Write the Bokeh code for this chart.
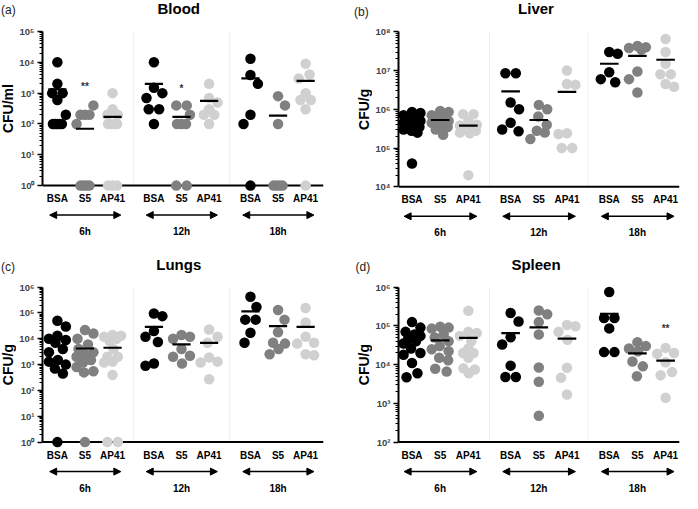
import numpy as np
from bokeh.plotting import figure
from bokeh.layouts import gridplot
from bokeh.models import Range1d, FixedTicker, Arrow, NormalHead
from bokeh.core.properties import value
from bokeh.embed import file_html
from bokeh.resources import INLINE

groups = ["BSA", "S5", "AP41"]
times = ["6h", "12h", "18h"]
colors = ["#000000", "#808080", "#d0d0d0"]

# ---- Blood (CFU/ml); 0 = below detection (drawn on the axis floor) ----
blood_bsa = [[10000, 2000, 1000, 1000, 600, 200, 100, 100, 100, 100, 100],
             [10000, 1500, 1000, 700, 300, 300, 100],
             [13000, 3900, 2000, 200, 100, 0]]
blood_s5 = [[400, 200, 200, 200, 100, 0, 0, 0, 0],
            [400, 400, 200, 100, 100, 100, 0, 0],
            [800, 400, 100, 0, 0, 0, 0]]
blood_ap41 = [[1000, 300, 200, 200, 100, 100, 100, 100, 0, 0, 0],
              [2000, 700, 500, 300, 200, 200, 100],
              [9000, 4000, 3000, 1000, 600, 600, 300, 0]]
blood_mean_bsa = [1320, 2000, 3000]
blood_mean_s5 = [70, 170, 186]
blood_mean_ap41 = [170, 560, 2500]

# ---- Liver (CFU/g) ----
liver_bsa = [[850000, 800000, 700000, 650000, 600000, 500000, 450000, 400000, 380000, 350000, 300000, 280000, 250000, 40000],
             [8500000, 8500000, 1500000, 1000000, 450000, 300000, 270000],
             [30000000, 27000000, 9000000, 6000000, 5000000]]
liver_s5 = [[900000, 850000, 700000, 600000, 550000, 500000, 450000, 400000, 350000, 300000, 220000],
            [1300000, 1000000, 650000, 400000, 280000, 250000, 170000],
            [43000000, 40000000, 38000000, 35000000, 9500000, 6000000, 2700000]]
liver_ap41 = [[750000, 750000, 500000, 400000, 380000, 350000, 300000, 280000, 250000, 240000, 20000],
              [10000000, 4500000, 4300000, 240000, 230000, 100000, 100000],
              [65000000, 30000000, 15000000, 8000000, 8000000, 4500000, 3800000]]
liver_mean_bsa = [460000, 2900000, 15000000]
liver_mean_s5 = [530000, 530000, 24000000]
liver_mean_ap41 = [380000, 2800000, 19000000]

# ---- Lungs (CFU/g) ----
lungs_bsa = [[50000, 30000, 13000, 10000, 9000, 7000, 4000, 3000, 1500, 1300, 1000, 700, 450, 0],
             [95000, 75000, 20000, 12000, 7500, 1100, 900],
             [420000, 170000, 55000, 55000, 17000, 7000]]
lungs_s5 = [[22000, 16000, 10000, 6000, 4000, 3000, 2500, 2000, 1500, 1200, 800, 550, 500, 0],
            [14000, 12000, 10000, 4000, 2200, 2000, 1100],
            [130000, 55000, 18000, 7000, 6500, 4000, 2500]]
lungs_ap41 = [[14000, 13000, 12000, 10000, 8000, 4000, 2000, 2000, 1300, 1200, 400, 0, 0],
              [23000, 12000, 7000, 1900, 1300, 1200, 270],
              [155000, 43000, 12000, 7000, 6500, 2500, 2300]]
lungs_mean_bsa = [9200, 29000, 115000]
lungs_mean_s5 = [4200, 6100, 31000]
lungs_mean_ap41 = [4500, 6900, 29000]

# ---- Spleen (CFU/g) ----
spleen_bsa = [[125000, 90000, 70000, 60000, 55000, 45000, 40000, 35000, 26000, 20000, 18000, 11000, 6000, 4700],
              [215000, 130000, 51000, 33000, 9400, 4800, 4800],
              [750000, 160000, 160000, 86000, 21000, 21000]]
spleen_s5 = [[95000, 90000, 85000, 60000, 50000, 40000, 30000, 25000, 22000, 15000, 13000, 7800, 6600],
             [250000, 200000, 125000, 60000, 8400, 3600, 480],
             [38000, 30000, 26000, 22000, 12000, 9000, 5000]]
spleen_ap41 = [[245000, 70000, 65000, 55000, 40000, 26000, 20000, 20000, 15000, 8000, 7500, 6000],
               [105000, 98000, 70000, 44000, 8300, 4600, 1700],
               [27000, 20000, 19000, 11500, 6400, 5300, 1400]]
spleen_mean_bsa = [44000, 65000, 205000]
spleen_mean_s5 = [42000, 91000, 19500]
spleen_mean_ap41 = [49000, 47000, 12600]

# significance marks: (time index, group index, text, height)
blood_stars = [(0, 1, "**", 1700), (1, 1, "*", 1400)]
spleen_stars = [(2, 2, "**", 86000)]

SUP = str.maketrans("0123456789", "⁰¹²³⁴⁵⁶⁷⁸⁹")
FONT = "Liberation Sans"
MARK = 10.5
LIMIT = 8.5
AXW = 24   # width reserved for y ticks + tick labels


def swarm(vals, floor, dec_px):
    """Deterministic column scatter: ties in a row, others pushed apart within a width limit."""
    eff = [max(v, floor) for v in vals]
    ys = [-np.log10(v) * dec_px for v in eff]
    offs = [None] * len(vals)
    placed = []
    for v in sorted(set(eff), reverse=True):
        idx = [i for i in range(len(vals)) if eff[i] == v]
        n = len(idx)
        if n < 2:
            continue
        half = MARK / 2.0 if n == 2 else 4.5
        for k, i in enumerate(idx):
            offs[i] = -half + 2 * half * k / (n - 1)
            placed.append((offs[i], ys[i]))
    grid = np.arange(-LIMIT, LIMIT + 0.01, 0.5)
    side = 1
    for i in sorted(range(len(vals)), key=lambda j: ys[j]):
        if offs[i] is not None:
            continue
        best, best_s = 0.0, -1.0
        for x in sorted(grid, key=lambda g: (abs(g), -side * g)):
            s = min([np.hypot(x - px, ys[i] - py) for (px, py) in placed] + [MARK * 1.1])
            if s > best_s + 1e-9:
                best, best_s = x, s
        offs[i] = best
        if best != 0:
            side = -np.sign(best)
        placed.append((best, ys[i]))
    return offs


def panel(tag, title, ylabel, data, means, stars, bot_dec, top_dec,
          top_px, axis_px, W, H, bl, br, x_first, x_last, tag_x, tag_px):
    mw = W - bl + AXW          # main figure width
    frame_w = W - bl - br
    xs = (x_last - x_first) / 9.0
    x0 = -x_first / xs
    x1 = 9 + (frame_w - x_last) / xs
    dec_px = (axis_px - top_px) / (top_dec - bot_dec)
    ytop = top_dec + top_px / dec_px
    ybot = bot_dec - (H - axis_px) / dec_px
    floor = 10.0 ** bot_dec
    yr = Range1d(10 ** ybot, 10 ** ytop)

    def y_at(px):
        return 10 ** (ytop - px / dec_px)

    # narrow strip left of the axis: panel tag and y-axis title
    nw = bl - AXW
    s = figure(width=nw, height=H, x_range=Range1d(0, nw), y_range=yr, y_axis_type="log",
               x_axis_location=None, y_axis_location=None, output_backend="svg",
               toolbar_location=None, min_border=0)
    s.grid.visible = False
    s.outline_line_color = None
    s.text(x=[tag_x], y=[y_at(tag_px)], text=[tag], text_align="left", text_baseline="middle",
           text_font=value(FONT), text_font_size="12px", text_color="#222222")
    s.text(x=[bl - 32.5], y=[10 ** ((top_dec + bot_dec) / 2.0)], text=[ylabel], angle=np.pi / 2,
           text_align="center", text_baseline="middle", text_font=value(FONT),
           text_font_style="bold", text_font_size="14px", text_color="black")

    p = figure(width=mw, height=H, x_range=Range1d(x0, x1), y_range=yr, y_axis_type="log",
               x_axis_location=None, output_backend="svg", toolbar_location=None,
               min_border_left=AXW, min_border_right=br, min_border_top=0,
               min_border_bottom=0)
    p.xgrid.visible = False
    p.ygrid.visible = False
    p.outline_line_color = None

    ax = p.yaxis[0]
    ax.ticker = FixedTicker(ticks=[10 ** k for k in range(bot_dec, top_dec + 1)],
                            minor_ticks=[m * 10 ** k for k in range(bot_dec, top_dec) for m in range(2, 10)])
    ax.bounds = (10 ** bot_dec, 10 ** top_dec)
    ax.major_label_overrides = {10 ** k: "10" + str(k).translate(SUP) for k in range(bot_dec, top_dec + 1)}
    ax.major_label_text_font = FONT
    ax.major_label_text_font_style = "bold"
    ax.major_label_text_font_size = "9.5px"
    ax.major_label_standoff = 3
    ax.axis_line_width = 2
    ax.major_tick_out = 5
    ax.major_tick_in = 0
    ax.minor_tick_out = 3
    ax.minor_tick_in = 0
    ax.major_tick_line_width = 1.5

    # faint separators between time groups
    p.segment(x0=[2.75, 6.25], x1=[2.75, 6.25], y0=[floor] * 2, y1=[10 ** top_dec] * 2,
              line_color="#eeeeee", line_width=1)
    # x axis line
    p.segment(x0=[x0], x1=[x1], y0=[floor], y1=[floor], line_color="black", line_width=2)

    for g in range(3):
        xx, yy = [], []
        for t in range(3):
            vals = data[g][t]
            offs = swarm(vals, floor, dec_px)
            for v, o in zip(vals, offs):
                xx.append(t * 3.5 + g + o / xs)
                yy.append(max(v, floor))
        p.scatter(x=xx, y=yy, size=MARK, fill_color=colors[g], line_color=colors[g],
                  line_width=0)

    mx, my = [], []
    for g in range(3):
        for t in range(3):
            mx.append(t * 3.5 + g)
            my.append(means[g][t])
    mx = np.array(mx)
    p.segment(x0=mx - 0.33, x1=mx + 0.33, y0=my, y1=my, line_color="black", line_width=2.2)

    for (t, g, st, h) in stars:
        p.text(x=[t * 3.5 + g], y=[h], text=[st], text_align="center", text_baseline="middle",
               text_font=value(FONT), text_font_style="bold", text_font_size="10px",
               text_color="#333333")

    cx = [t * 3.5 + g for t in range(3) for g in range(3)]
    p.text(x=cx, y=[y_at(axis_px + 13)] * 9, text=groups * 3, text_align="center",
           text_baseline="middle", text_font=value(FONT), text_font_style="bold",
           text_font_size="10px", text_color="black")
    ya = y_at(axis_px + 29.5)
    for t in range(3):
        p.add_layout(Arrow(x_start=t * 3.5 - 0.28, x_end=t * 3.5 + 2.3, y_start=ya, y_end=ya,
                           start=NormalHead(size=7, fill_color="black", line_color="black"),
                           end=NormalHead(size=7, fill_color="black", line_color="black"),
                           line_width=1.5, line_color="black"))
    p.text(x=[1, 4.5, 8], y=[y_at(axis_px + 46)] * 3, text=times, text_align="center",
           text_baseline="middle", text_font=value(FONT), text_font_style="bold",
           text_font_size="10px", text_color="black")
    p.text(x=[4.4], y=[y_at(top_px - 23)], text=[title], text_align="center",
           text_baseline="middle", text_font=value(FONT), text_font_style="bold",
           text_font_size="15px", text_color="black")
    return s, p


sa, pa = panel("(a)", "Blood", "CFU/ml", [blood_bsa, blood_s5, blood_ap41],
               [blood_mean_bsa, blood_mean_s5, blood_mean_ap41], blood_stars,
               0, 5, 31.0, 185.1, 339, 242, 40, 16, 15.0, 265.0, 0.5, 9.5)
sb, pb = panel("(b)", "Liver", "CFU/g", [liver_bsa, liver_s5, liver_ap41],
               [liver_mean_bsa, liver_mean_s5, liver_mean_ap41], [],
               4, 8, 31.3, 186.3, 343, 242, 57, 3, 13.6, 269.0, 14.5, 11.5)
sc, pc = panel("(c)", "Lungs", "CFU/g", [lungs_bsa, lungs_s5, lungs_ap41],
               [lungs_mean_bsa, lungs_mean_s5, lungs_mean_ap41], [],
               0, 6, 44.6, 199.6, 339, 251, 40, 16, 15.0, 265.0, 0.5, 24.5)
sd, pd = panel("(d)", "Spleen", "CFU/g", [spleen_bsa, spleen_s5, spleen_ap41],
               [spleen_mean_bsa, spleen_mean_s5, spleen_mean_ap41], spleen_stars,
               2, 6, 44.6, 199.6, 343, 251, 57, 3, 13.6, 269.0, 16.0, 24.5)

layout = gridplot([[sa, pa, sb, pb], [sc, pc, sd, pd]], toolbar_location=None)
open("out.html", "w").write(file_html(layout, INLINE))
